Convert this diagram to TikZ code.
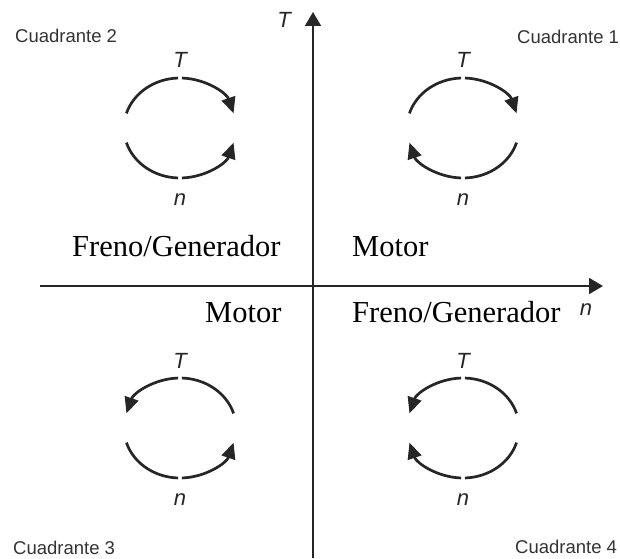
\documentclass[tikz,border=0pt]{standalone}
\usepackage{fontspec}
\setmainfont{Liberation Serif}
\setsansfont{Liberation Sans}
\usetikzlibrary{arrows.meta,calc}
\newcommand\qarc[4]{\draw[#4] ($(#1)+(#2:56 and 50)$) arc[start angle=#2, end angle=#3, x radius=56, y radius=50];}
\begin{document}
\begin{tikzpicture}[x=1pt,y=1pt,
  arcline/.style={line width=2.7pt, draw=black!85},
  tipped/.style={arcline, -{Triangle[length=16pt,width=14pt]}},
  axisline/.style={line width=1.8pt, draw=black!85, -{Triangle[length=14pt,width=16pt]}},
  quad/.style={font=\sffamily\fontsize{18.5}{22}\selectfont, text=black!80, anchor=base west, inner sep=0pt},
  mode/.style={font=\fontsize{30.5}{36}\selectfont, anchor=base west, inner sep=0pt},
  var/.style={font=\sffamily\itshape\fontsize{22}{26}\selectfont, text=black!85, anchor=base, inner sep=0pt}]
\fill[white] (0,0) rectangle (620,558);
\useasboundingbox (0,0) rectangle (620,558);
% axes
\coordinate (yb) at (313,0);
\coordinate (yt) at (313,546);
\coordinate (xl) at (40,272);
\coordinate (xr) at (603,272);
\draw[axisline] (yb) -- (yt);
\draw[axisline] (xl) -- (xr);
\node[var] (Tax) at (284,530) {T};
\node[var] (nax) at (586,243) {n};
% centres
\coordinate (c2) at (180,430);
\coordinate (c1) at (463,430);
\coordinate (c3) at (180,130);
\coordinate (c4) at (463,130);
% Quadrant 2
\qarc{c2}{163}{92}{arcline}
\qarc{c2}{88}{17}{tipped}
\qarc{c2}{197}{268}{arcline}
\qarc{c2}{272}{343}{tipped}
% Quadrant 1
\qarc{c1}{163}{92}{arcline}
\qarc{c1}{88}{17}{tipped}
\qarc{c1}{343}{272}{arcline}
\qarc{c1}{268}{197}{tipped}
% Quadrant 3
\qarc{c3}{17}{88}{arcline}
\qarc{c3}{92}{163}{tipped}
\qarc{c3}{197}{268}{arcline}
\qarc{c3}{272}{343}{tipped}
% Quadrant 4
\qarc{c4}{17}{88}{arcline}
\qarc{c4}{92}{163}{tipped}
\qarc{c4}{343}{272}{arcline}
\qarc{c4}{268}{197}{tipped}
% T and n labels
\foreach \c in {1,2,3,4}{
  \node[var] (T\c) at ($(c\c)+(0,60)$) {T};
  \node[var] (n\c) at ($(c\c)+(0,-77)$) {n};
}
% modes
\node[mode] (fg1) at (72,302) {Freno/Generador};
\node[mode] (m1) at (352,302) {Motor};
\node[mode] (m2) at (205,236) {Motor};
\node[mode] (fg2) at (352,236) {Freno/Generador};
% quadrant names
\node[quad] (q2) at (15,515) {Cuadrante 2};
\node[quad] (q1) at (517,514) {Cuadrante 1};
\node[quad] (q3) at (13,4) {Cuadrante 3};
\node[quad] (q4) at (515,5) {Cuadrante 4};
\end{tikzpicture}
\end{document}
